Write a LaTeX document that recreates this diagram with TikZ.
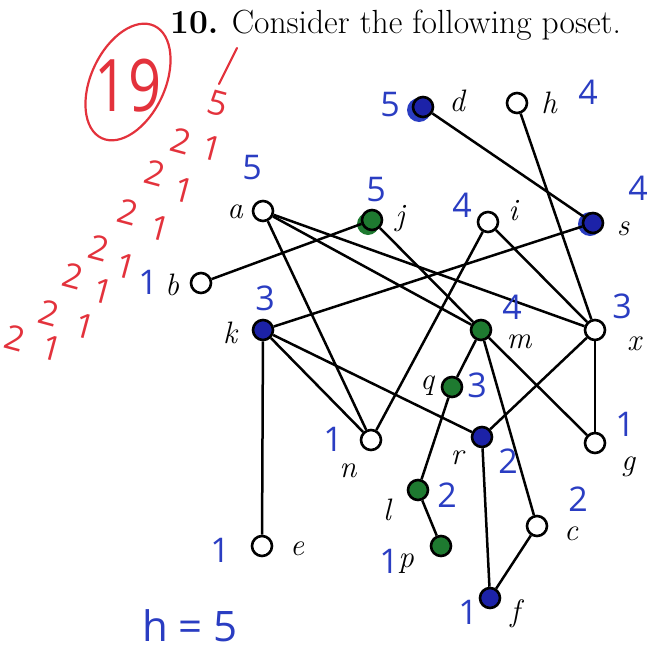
\documentclass[tikz,border=0pt]{standalone}
\usepackage{fontspec}
\usetikzlibrary{backgrounds}
\newfontfamily\hand{Open Sans}
\definecolor{pblue}{HTML}{2A3DC2}
\definecolor{pred}{HTML}{E3323C}
\definecolor{fgreen}{HTML}{1E7A30}
\definecolor{fblue}{HTML}{1C22A8}
\begin{document}
\begin{tikzpicture}[x=1pt,y=-1pt,
  pt/.style={circle,draw=black,line width=2.6pt,fill=white,minimum size=20pt,inner sep=0pt},
  gpt/.style={pt,fill=fgreen},
  bpt/.style={pt,fill=fblue},
  edge/.style={line width=2.5pt,black},
  lbl/.style={inner sep=0pt,font=\fontsize{31}{31}\selectfont\itshape},
  bnum/.style={inner sep=0pt,text=pblue,font=\hand\fontsize{34}{34}\selectfont},
  rnum/.style={inner sep=0pt,text=pred,font=\hand\fontsize{34}{34}\selectfont,rotate=-15}]
\useasboundingbox (0,0) rectangle (653,656);
% title
\node[inner sep=0pt,anchor=base west,font=\fontsize{33.5}{36}\selectfont] (title) at (170,33) {\textbf{10.}\hspace{0.4em}Consider the following poset.};
% vertices
\node[bpt] (d) at (423,107) {};
\node[pt]  (h) at (517,103) {};
\node[pt]  (a) at (263,211) {};
\node[gpt] (j) at (372,220) {};
\node[pt]  (i) at (488,222) {};
\node[bpt] (s) at (593,223) {};
\node[pt]  (b) at (201,283) {};
\node[bpt] (k) at (263,330) {};
\node[gpt] (m) at (481,330) {};
\node[pt]  (x) at (595,330) {};
\node[gpt] (q) at (452,387) {};
\node[pt]  (n) at (371,440) {};
\node[bpt] (r) at (482,437) {};
\node[pt]  (g) at (595,443) {};
\node[gpt] (l) at (418,490) {};
\node[pt]  (c) at (537,526) {};
\node[pt]  (e) at (262,546) {};
\node[gpt] (p) at (441,546) {};
\node[bpt] (f) at (490,598) {};
% blue scribbles around d and s
\begin{scope}[on background layer]
\fill[pblue] ([shift={(-4,3)}]d.center) circle (12);
\fill[pblue] ([shift={(-3,1)}]s.center) circle (12);
\fill[fgreen] ([shift={(-4,4)}]j.center) circle (11);
\end{scope}
% edges
\draw[edge] (d) -- (s);
\draw[edge] (h) -- (x);
\draw[edge] (a) -- (n);
\draw[edge] (a) -- (m);
\draw[edge] (a) -- (x);
\draw[edge] (b) -- (j);
\draw[edge] (j) -- (m);
\draw[edge] (i) -- (n);
\draw[edge] (i) -- (x);
\draw[edge] (s) -- (k);
\draw[edge] (k) -- (e);
\draw[edge] (k) -- (r);
\draw[edge] (k) -- (n);
\draw[edge] (m) -- (q);
\draw[edge] (m) -- (c);
\draw[edge] (m) -- (g);
\draw[edge] (x) -- (r);
\draw[edge] (x) -- (g);
\draw[edge] (q) -- (l);
\draw[edge] (l) -- (p);
\draw[edge] (r) -- (f);
\draw[edge] (c) -- (f);
% labels
\node[lbl] (dL) at (457,101) {d};
\node[lbl] (hL) at (549,103) {h};
\node[lbl] (aL) at (235,212) {a};
\node[lbl] (jL) at (400,219) {j};
\node[lbl] (iL) at (513,211) {i};
\node[lbl] (sL) at (623,229) {s};
\node[lbl] (bL) at (172,285) {b};
\node[lbl] (kL) at (230,333) {k};
\node[lbl] (mL) at (519,342) {m};
\node[lbl] (xL) at (634,344) {x};
\node[lbl] (qL) at (427,386) {q};
\node[lbl] (nL) at (348,471) {n};
\node[lbl] (rL) at (457,458) {r};
\node[lbl] (gL) at (628,467) {g};
\node[lbl] (lL) at (387,510) {l};
\node[lbl] (cL) at (571,534) {c};
\node[lbl] (eL) at (297,549) {e};
\node[lbl] (pL) at (406,564) {p};
\node[lbl] (fL) at (515,614) {f};
% blue annotations
\node[bnum] (na) at (252,168) {5};
\node[bnum] (nj) at (376,190) {5};
\node[bnum] (ni) at (462,205) {4};
\node[bnum] (ns) at (638,188) {4};
\node[bnum] (nd) at (390,105) {5};
\node[bnum] (nh) at (588,92) {4};
\node[bnum] (nb) at (148,282) {1};
\node[bnum] (nk) at (265,298) {3};
\node[bnum] (nm) at (512,307) {4};
\node[bnum] (nx) at (622,306) {3};
\node[bnum] (nq) at (477,385) {3};
\node[bnum] (nn) at (333,439) {1};
\node[bnum] (nr) at (508,461) {2};
\node[bnum] (ng) at (625,424) {1};
\node[bnum] (nl) at (447,495) {2};
\node[bnum] (nc) at (578,499) {2};
\node[bnum] (np) at (389,561) {1};
\node[bnum] (nf) at (468,612) {1};
\node[bnum] (ne) at (220,550) {1};
\node[bnum,font=\hand\fontsize{42}{42}\selectfont] (hh) at (190,626) {h = 5};
% red annotations
\draw[pred,line width=2.2pt,rotate around={-25:(128,82)}] (128,82) ellipse (37 and 62);
\node[inner sep=0pt,text=pred,yscale=1.25,font=\hand\fontsize{58}{58}\selectfont] (nineteen) at (128,86) {19};
\draw[pred,line width=2.2pt,line cap=round] (237,48) -- (219,84);
\node[rnum] (r5) at (218,103) {5};
\node[rnum] (r21) at (181,141) {2};
\node[rnum] (r11) at (212,148) {1};
\node[rnum] (r22) at (155,173) {2};
\node[rnum] (r12) at (184,190) {1};
\node[rnum] (r23) at (128,212) {2};
\node[rnum] (r13) at (160,228) {1};
\node[rnum] (r24) at (99,248) {2};
\node[rnum] (r14) at (126,266) {1};
\node[rnum] (r25) at (73,276) {2};
\node[rnum] (r15) at (103,291) {1};
\node[rnum] (r26) at (49,313) {2};
\node[rnum] (r16) at (85,326) {1};
\node[rnum] (r27) at (15,338) {2};
\node[rnum] (r17) at (52,348) {1};
\end{tikzpicture}
\end{document}
